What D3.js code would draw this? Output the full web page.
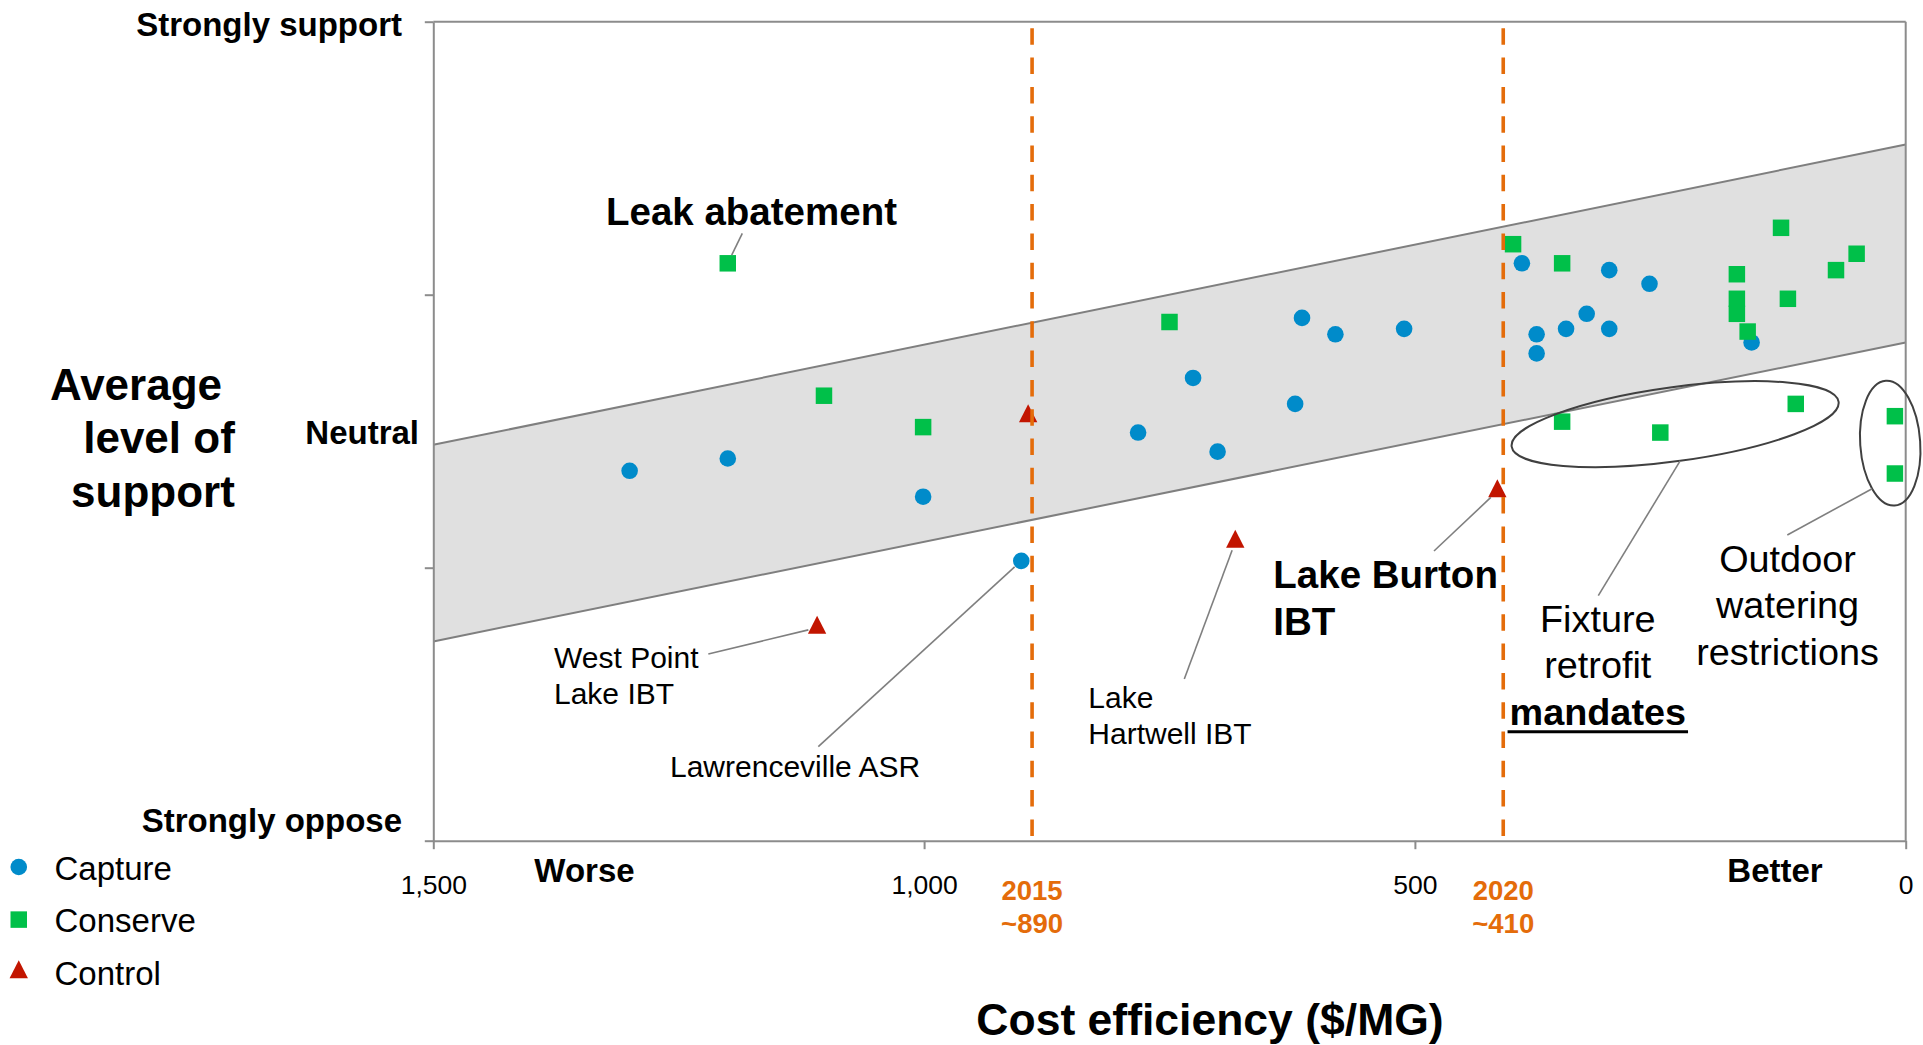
<!DOCTYPE html>
<html>
<head>
<meta charset="utf-8">
<script src="https://cdn.jsdelivr.net/npm/d3@7"></script>
<style>
    html, body { margin: 0; padding: 0; background: #fff; }
    svg { display: block; font-family: 'Liberation Sans', Arial, sans-serif; }
</style>
</head>
<body>
<svg id="chart" width="1923" height="1045"></svg>
<script>
// Water supply options: cost efficiency ($/MG) against average level of support

var seriesNames = ['Capture', 'Conserve', 'Control'];

var captureCost    = [1300, 1200, 1001, 901, 782, 726, 701, 622, 615, 581, 511, 391, 376, 376, 346, 325, 302, 302, 261, 157];
var captureSupport = [3.71, 3.80, 3.52, 3.05, 3.99, 4.39, 3.85, 4.20, 4.83, 4.71, 4.75, 5.23, 4.71, 4.57, 4.75, 4.86, 5.18, 4.75, 5.08, 4.65];

var conserveCost    = [1200, 1102, 1001, 750, 400, 350, 172, 172, 172, 161, 127, 120, 71, 50, 350, 250, 112, 11, 11];
var conserveSupport = [5.23, 4.26, 4.03, 4.80, 5.37, 5.23, 5.15, 4.97, 4.86, 4.73, 5.49, 4.97, 5.18, 5.30, 4.07, 3.99, 4.20, 4.11, 3.69];

var controlCost    = [1109, 894, 683, 416];
var controlSupport = [2.56, 4.11, 3.19, 3.56];

// shaded range of "expected" support for a given cost
var bandCost  = [1500, 0];
var bandUpper = [3.90, 6.10];
var bandLower = [2.46, 4.65];

var xTicks = [1500, 1000, 500, 0];
var yTicks = [1, 3, 5, 7];
var supportLevels = [1, 4, 7];
var supportLabels = ['Strongly oppose', 'Neutral', 'Strongly support'];

var milestoneYears = ['2015', '2020'];
var milestoneCost  = [890, 410];

var callouts = [
    {lines: ['Leak abatement'], series: 'conserve', index: 0},
    {lines: ['West Point', 'Lake IBT'], series: 'control', index: 0},
    {lines: ['Lawrenceville ASR'], series: 'capture', index: 3},
    {lines: ['Lake', 'Hartwell IBT'], series: 'control', index: 2},
    {lines: ['Lake Burton', 'IBT'], series: 'control', index: 3}
];
var groups = [
    {lines: ['Fixture', 'retrofit', 'mandates'], members: [14, 15, 16]},
    {lines: ['Outdoor', 'watering', 'restrictions'], members: [17, 18]}
];

// ---------------------------------------------------------------- layout
var FONT_AXIS = '#000';
var AXIS_GREY = '#8c8c8c';
var LEADER_GREY = '#7f7f7f';
var ORANGE = '#e46c0a';
var colors = {capture: '#008bca', conserve: '#00c049', control: '#c21500'};

var calloutLayout = [
    {x: 751.5, y: 225, anchor: 'middle', size: 38.5, bold: true, lineH: 0, from: [742.3, 233.3]},
    {x: 554, y: 667.7, anchor: 'start', size: 30, lineH: 36.6, from: [708.3, 654]},
    {x: 670, y: 776.7, anchor: 'start', size: 30, lineH: 0, from: [818.3, 746.7]},
    {x: 1088.3, y: 708.3, anchor: 'start', size: 30, lineH: 36, from: [1184.3, 679]},
    {x: 1273.3, y: 588.3, anchor: 'start', size: 38.5, bold: true, lineH: 46.7, from: [1434, 551]}
];
var groupLayout = [
    {dx: 2.4, dy: 4.8, rx: 165, ry: 37, rotate: -7.8, x: 1597.8, y: 631.7, from: [1598.3, 595.7], t: 90, boldLast: true},
    {dx: -4.7, dy: -1.7, rx: 30, ry: 62.5, rotate: -4, x: 1787.5, y: 571.7, from: [1787.3, 535], t: 135}
];
var supportLabelLayout = [{x: 402, dy: -9}, {x: 419, dy: 13.1}, {x: 402, dy: 14}];

var svg = d3.select('#chart');

var x = d3.scaleLinear().domain([1500, 0]).range([433.3, 1905.7]);
var y = d3.scaleLinear().domain([1, 7]).range([840.7, 21.7]);

var triangle = {
    draw: function (context, size) {
        var h = Math.sqrt(size);
        context.moveTo(0, -h * 2 / 3);
        context.lineTo(h * 0.51, h / 3);
        context.lineTo(-h * 0.51, h / 3);
        context.closePath();
    }
};
var symbols = {
    capture: d3.symbol().type(d3.symbolCircle).size(Math.PI * 8.3 * 8.3),
    conserve: d3.symbol().type(d3.symbolSquare).size(16.5 * 16.5),
    control: d3.symbol().type(triangle).size(18 * 18)
};
var series = {
    capture: d3.zip(captureCost, captureSupport),
    conserve: d3.zip(conserveCost, conserveSupport),
    control: d3.zip(controlCost, controlSupport)
};

var addLines = function (g, lines, px, py, lineH, anchor, size, bold) {
    var nodes = [];
    lines.forEach(function (t, i) {
        var b = typeof bold === 'function' ? bold(i) : bold;
        nodes.push(g.append('text')
            .attr('x', px)
            .attr('y', py + i * lineH)
            .attr('text-anchor', anchor)
            .attr('font-size', size)
            .attr('font-weight', b ? 'bold' : 'normal')
            .attr('fill', FONT_AXIS)
            .text(t));
    });
    return nodes;
};

// ---------------------------------------------------------------- band
var band = d3.zip(bandCost, bandLower, bandUpper);
svg.append('path')
    .datum(band)
    .attr('fill', '#e0e0e0')
    .attr('d', d3.area()
        .x(function (d) { return x(d[0]); })
        .y0(function (d) { return y(d[1]); })
        .y1(function (d) { return y(d[2]); }));

[1, 2].forEach(function (k) {
    svg.append('path')
        .datum(band)
        .attr('fill', 'none')
        .attr('stroke', '#7f7f7f')
        .attr('stroke-width', 2)
        .attr('d', d3.line()
            .x(function (d) { return x(d[0]); })
            .y(function (d) { return y(d[k]); }));
});

// ---------------------------------------------------------------- axes / frame
var xAxis = svg.append('g')
    .attr('transform', 'translate(0,' + y(1) + ')')
    .call(d3.axisBottom(x).tickValues(xTicks).tickFormat(d3.format(',')).tickSize(8.5).tickSizeOuter(0));
xAxis.selectAll('text')
    .attr('y', 53.3)
    .attr('dy', null)
    .attr('font-size', 26.5)
    .attr('font-family', null)
    .attr('fill', FONT_AXIS);

var yAxis = svg.append('g')
    .attr('transform', 'translate(' + x(1500) + ',0)')
    .call(d3.axisLeft(y).tickValues(yTicks).tickFormat('').tickSize(8.5).tickSizeOuter(0));

svg.append('line')
    .attr('x1', x(1500)).attr('x2', x(0))
    .attr('y1', y(7)).attr('y2', y(7));
svg.append('line')
    .attr('x1', x(0)).attr('x2', x(0))
    .attr('y1', y(7)).attr('y2', y(1));

svg.selectAll('.domain, .tick line, svg > line')
    .attr('stroke', AXIS_GREY)
    .attr('stroke-width', 2);

// ---------------------------------------------------------------- points
['capture', 'conserve', 'control'].forEach(function (key) {
    svg.append('g').selectAll('path')
        .data(series[key])
        .enter().append('path')
        .attr('transform', function (d) { return 'translate(' + x(d[0]) + ',' + y(d[1]) + ')'; })
        .attr('d', symbols[key])
        .attr('fill', colors[key]);
});

// ---------------------------------------------------------------- milestone lines
milestoneCost.forEach(function (c, i) {
    svg.append('line')
        .attr('x1', x(c)).attr('x2', x(c))
        .attr('y1', y(7) + 6.6).attr('y2', y(1) - 2)
        .attr('stroke', ORANGE)
        .attr('stroke-width', 3.6)
        .attr('stroke-dasharray', '16.5 12.8');

    [milestoneYears[i], '~' + c].forEach(function (t, j) {
        svg.append('text')
            .attr('x', x(c))
            .attr('y', 900 + j * 33.3)
            .attr('text-anchor', 'middle')
            .attr('font-size', 27.5)
            .attr('font-weight', 'bold')
            .attr('fill', ORANGE)
            .text(t);
    });
});

// ---------------------------------------------------------------- call-outs
callouts.forEach(function (c, i) {
    var lay = calloutLayout[i];
    var p = series[c.series][c.index];
    var px = x(p[0]), py = y(p[1]);
    var vx = lay.from[0] - px, vy = lay.from[1] - py;
    var len = Math.sqrt(vx * vx + vy * vy);
    svg.append('line')
        .attr('x1', lay.from[0]).attr('y1', lay.from[1])
        .attr('x2', px + vx / len * 9).attr('y2', py + vy / len * 9)
        .attr('stroke', LEADER_GREY)
        .attr('stroke-width', 1.6);
    addLines(svg, c.lines, lay.x, lay.y, lay.lineH, lay.anchor, lay.size, lay.bold);
});

groups.forEach(function (grp, i) {
    var lay = groupLayout[i];
    var cx = d3.mean(grp.members, function (m) { return x(conserveCost[m]); }) + lay.dx;
    var cy = d3.mean(grp.members, function (m) { return y(conserveSupport[m]); }) + lay.dy;

    svg.append('ellipse')
        .attr('transform', 'translate(' + cx + ',' + cy + ') rotate(' + lay.rotate + ')')
        .attr('rx', lay.rx).attr('ry', lay.ry)
        .attr('fill', 'none')
        .attr('stroke', '#404040')
        .attr('stroke-width', 2);

    // leader ends on the ellipse outline
    var t = lay.t * Math.PI / 180, r = lay.rotate * Math.PI / 180;
    var ex = lay.rx * Math.cos(t), ey = lay.ry * Math.sin(t);
    svg.append('line')
        .attr('x1', lay.from[0]).attr('y1', lay.from[1])
        .attr('x2', cx + ex * Math.cos(r) - ey * Math.sin(r))
        .attr('y2', cy + ex * Math.sin(r) + ey * Math.cos(r))
        .attr('stroke', LEADER_GREY)
        .attr('stroke-width', 1.6);

    var nodes = addLines(svg, grp.lines, lay.x, lay.y, 46.7, 'middle', 37.8, function (k) {
        return lay.boldLast && k === grp.lines.length - 1;
    });
    if (lay.boldLast) {
        var last = nodes[nodes.length - 1];
        var w = last.node().getComputedTextLength();
        svg.append('line')
            .attr('x1', lay.x - w / 2 - 2).attr('x2', lay.x + w / 2 + 2)
            .attr('y1', +last.attr('y') + 6.7).attr('y2', +last.attr('y') + 6.7)
            .attr('stroke', '#000')
            .attr('stroke-width', 3);
    }
});

// ---------------------------------------------------------------- axis words
supportLevels.forEach(function (v, i) {
    svg.append('text')
        .attr('x', supportLabelLayout[i].x)
        .attr('y', y(v) + supportLabelLayout[i].dy)
        .attr('text-anchor', 'end')
        .attr('font-size', 33)
        .attr('font-weight', 'bold')
        .text(supportLabels[i]);
});

[['Average', 136], ['level of', 159], ['support', 153]].forEach(function (d, i) {
    svg.append('text')
        .attr('x', d[1])
        .attr('y', 400 + i * 53.3)
        .attr('text-anchor', 'middle')
        .attr('font-size', 44)
        .attr('font-weight', 'bold')
        .text(d[0]);
});

[['Worse', 584.5], ['Better', 1775]].forEach(function (d) {
    svg.append('text')
        .attr('x', d[1])
        .attr('y', 881.7)
        .attr('text-anchor', 'middle')
        .attr('font-size', 33)
        .attr('font-weight', 'bold')
        .text(d[0]);
});

svg.append('text')
    .attr('x', 1210)
    .attr('y', 1035)
    .attr('text-anchor', 'middle')
    .attr('font-size', 44.5)
    .attr('font-weight', 'bold')
    .text('Cost efficiency ($/MG)');

// ---------------------------------------------------------------- legend
var legend = svg.append('g');
['capture', 'conserve', 'control'].forEach(function (key, i) {
    var ly = 867 + i * 52.6;
    legend.append('path')
        .attr('transform', 'translate(18.75,' + ly + ')')
        .attr('d', symbols[key])
        .attr('fill', colors[key]);
    legend.append('text')
        .attr('x', 54.5)
        .attr('y', ly + 12.8)
        .attr('font-size', 33)
        .text(seriesNames[i]);
});
</script>
</body>
</html>
